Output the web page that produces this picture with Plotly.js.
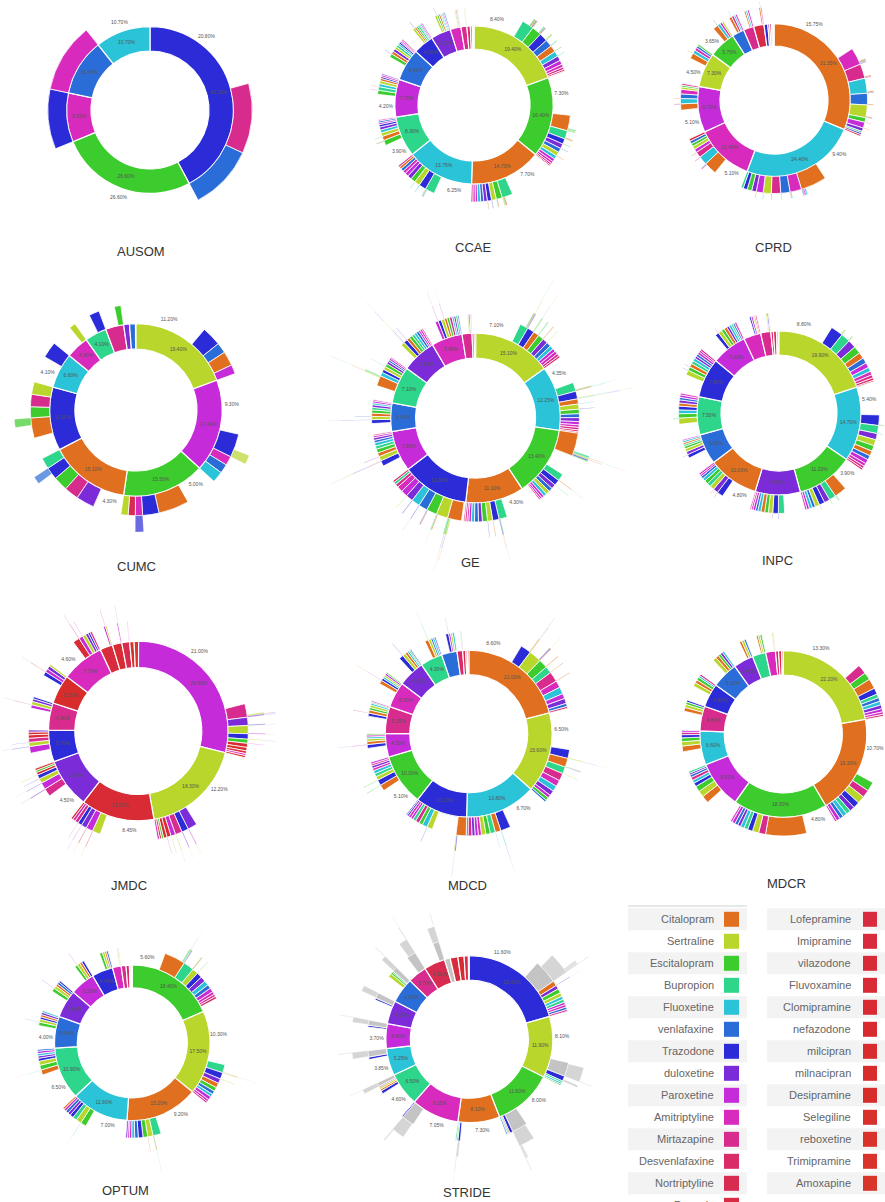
<!DOCTYPE html>
<html><head><meta charset="utf-8">
<script src="https://cdn.plot.ly/plotly-3.0.1.min.js"></script>
<style>html,body{margin:0;padding:0;background:#fff}#chart{width:885px;height:1202px}</style>
</head><body><div id="chart"></div>
<script>
// ---------- categories ----------
const drugNames = ['Citalopram','Sertraline','Escitalopram','Bupropion','Fluoxetine','venlafaxine','Trazodone','duloxetine','Paroxetine','Amitriptyline','Mirtazapine','Desvenlafaxine','Nortriptyline','Doxepin','Lofepramine','Imipramine','vilazodone','Fluvoxamine','Clomipramine','nefazodone','milcipran','milnacipran','Desipramine','Selegiline','reboxetine','Trimipramine','Amoxapine'];
const drugColors = ['#E0701F','#B8D62B','#3DCC2D','#2DD68A','#2BC3D8','#2B6DD8','#2B2BD8','#7B2BD8','#C52BD8','#D82BBD','#D82B8E','#D82B68','#D82B50','#D82B46','#D82B40','#D82B3C','#D82B38','#D82B35','#D82B32','#D82B30','#D82B2E','#D82C2C','#D82E2B','#D8302B','#D8322B','#D8342B','#D8362B','#C4C4C4'];
const chartNames = ['AUSOM','CCAE','CPRD','CUMC','GE','INPC','JMDC','MDCD','MDCR','OPTUM','STRIDE'];

// ---------- values: [drug, % of patients, next-line children]; drug -1 = stopped ----------
const ausom = [
 [6,42.2,[[10,11.1],[5,10.3]]],
 [2,26.6],
 [9,9.5,[[6,9.5]]],
 [5,11.0,[[9,11.0]]],
 [4,10.7]
];
const ccae = [
 [1,19.4,[[3,2.0,[[2,0.25,[[0,0.05,[[1,0.03,[[3,0.02]]]]]]],[0,0.2],[6,0.15],[1,0.1]]],[2,1.6,[[3,0.2],[0,0.15,[[2,0.04,[[0,0.03]]]]],[6,0.1]]],[6,1.4,[[1,0.15],[3,0.1]]],[5,1.2,[[2,0.1],[4,0.08]]],[0,1.1,[[2,0.1]]],[4,0.9,[[3,0.08]]],[7,0.8],[8,0.7],[9,0.5],[10,0.4],[11,0.3],[12,0.1]]],
 [2,16.4,[[0,2.6,[[3,0.2,[[2,0.05,[[0,0.03]]]]],[1,0.15,[[0,0.04]]],[2,0.1]]],[3,1.4,[[0,0.15],[1,0.1]]],[6,0.9,[[2,0.1]]],[7,0.8,[[5,0.08]]],[5,0.7],[1,0.7,[[0,0.08]]],[4,0.6],[8,0.5],[9,0.4],[10,0.3],[11,0.2]]],
 [0,14.7,[[3,1.8,[[0,0.2,[[3,0.05,[[0,0.03,[[2,0.02]]]]]]],[2,0.15],[1,0.1]]],[2,1.0,[[0,0.12],[3,0.08]]],[1,0.8,[[6,0.08]]],[6,0.7,[[0,0.08]]],[7,0.6],[5,0.5],[4,0.5],[8,0.4],[9,0.4],[10,0.3]]],
 [4,13.75,[[3,1.6,[[4,0.15,[[3,0.04,[[4,0.03]]]]],[2,0.1],[0,0.08]]],[6,1.2,[[4,0.1,[[6,0.03]]]]],[1,0.9,[[4,0.08]]],[2,0.8],[7,0.7],[8,0.6],[9,0.5],[5,0.5],[0,0.4],[10,0.3]]],
 [3,8.3,[[2,0.9,[[3,0.1,[[2,0.04,[[3,0.02]]]]],[0,0.08]]],[0,0.7,[[3,0.08]]],[1,0.6],[4,0.5],[7,0.5],[6,0.4],[8,0.3],[5,0.3],[9,0.2]]],
 [8,7.7,[[2,0.7,[[8,0.08,[[2,0.03]]]]],[3,0.6,[[0,0.06]]],[4,0.5],[1,0.5],[0,0.4],[6,0.3],[9,0.3],[7,0.2]]],
 [5,6.6,[[2,0.6,[[5,0.08,[[2,0.03]]]]],[0,0.5],[7,0.5],[1,0.4],[3,0.4],[4,0.3],[6,0.3],[8,0.2],[9,0.2],[10,0.2]]],
 [6,4.2,[[1,0.4,[[6,0.06,[[1,0.03]]]]],[0,0.3],[2,0.3],[3,0.3],[4,0.2],[7,0.2],[8,0.2]]],
 [7,4.1,[[1,0.4,[[7,0.05]]],[2,0.3],[0,0.3],[3,0.2],[4,0.2],[8,0.2],[5,0.2]]],
 [9,2.2,[[1,0.2],[0,0.2],[6,0.1],[4,0.1]]],
 [10,1.2,[[1,0.1],[0,0.1]]],
 [11,0.7],[12,0.4],[16,0.2],[17,0.15]
];
const cprd = [
 [0,31.35,[[9,3.0,[[0,0.25,[[9,0.06,[[0,0.03]]]]],[4,0.2],[10,0.1]]],[10,2.5,[[0,0.2,[[10,0.05]]],[9,0.1]]],[4,2.6,[[0,0.2,[[4,0.05,[[0,0.03]]]]],[5,0.1]]],[5,2.0,[[0,0.15]]],[1,2.2,[[0,0.15],[4,0.1]]],[2,0.8,[[0,0.08]]],[8,1.0,[[0,0.08]]],[7,0.6],[3,0.3],[6,0.3],[13,0.3]]],
 [4,24.4,[[0,4.5,[[4,0.3,[[0,0.06,[[4,0.03]]]]],[9,0.2],[10,0.15],[5,0.1]]],[9,2.0,[[4,0.15,[[9,0.04]]],[0,0.1]]],[5,1.6,[[4,0.1]]],[10,1.6,[[0,0.1,[[4,0.03]]]]],[1,1.4,[[4,0.1]]],[8,1.2,[[0,0.08]]],[7,0.8],[2,0.8],[6,0.7],[3,0.4]]],
 [9,12.4,[[0,2.2,[[9,0.15,[[0,0.05,[[9,0.03]]]]],[4,0.1]]],[4,1.5,[[9,0.1]]],[10,1.0,[[0,0.08]]],[8,0.6],[1,0.6],[2,0.5],[5,0.5],[13,0.4]]],
 [8,9.7,[[0,1.1,[[8,0.1,[[0,0.04]]]]],[4,0.9,[[0,0.08]]],[5,0.8],[9,0.8],[1,0.4],[2,0.3],[10,0.3]]],
 [1,7.3,[[0,1.0,[[1,0.1,[[0,0.04]]]]],[4,0.6],[9,0.5],[5,0.4],[2,0.3]]],
 [2,5.75,[[0,0.9,[[2,0.08,[[0,0.03]]]]],[4,0.5],[9,0.4],[1,0.3]]],
 [5,2.6,[[0,0.5,[[5,0.04]]],[10,0.4],[4,0.3],[9,0.3]]],
 [10,2.2,[[0,0.3],[4,0.3],[9,0.3]]],
 [13,2.2,[[0,0.3,[[13,0.04]]],[9,0.2]]],
 [6,0.8],[7,0.4],[14,0.4],[15,0.2],[18,0.2],[17,0.1]
];
const cumc = [
 [1,19.4,[[6,3.0],[5,1.6],[0,2.2],[8,1.4]]],
 [8,17.4,[[6,3.6,[[1,1.2]]],[9,1.4],[5,1.4],[4,1.7]]],
 [2,15.5,[[0,4.7],[6,2.5],[9,1.1,[[6,1.1]]],[12,1.1],[1,1.1]]],
 [0,15.1,[[7,2.8],[10,2.2],[2,2.2],[6,1.9,[[5,1.0]]],[3,1.7]]],
 [6,11.9,[[0,3.1,[[2,1.1]]],[2,1.7],[10,1.9],[1,1.9]]],
 [4,6.6,[[6,2.5]]],
 [9,4.3,[[1,1.0]]],
 [3,4.1,[[6,1.6]]],
 [10,3.4,[[2,1.0]]],
 [7,1.1],[5,1.1]
];
const ge = [
 [1,15.1,[[3,1.3,[[2,0.15,[[1,0.05,[[3,0.04,[[2,0.03]]]]]]],[0,0.1,[[1,0.04]]],[6,0.1]]],[6,1.1,[[1,0.1,[[6,0.04,[[1,0.03]]]]],[3,0.1]]],[0,0.9,[[2,0.08],[3,0.06]]],[2,0.9,[[0,0.08]]],[7,0.8,[[1,0.06]]],[5,0.7],[4,0.6],[8,0.5],[9,0.5],[10,0.4],[11,0.3]]],
 [4,12.25,[[3,1.4,[[2,0.12,[[4,0.05,[[3,0.03]]]]],[0,0.1,[[3,0.04]]]]],[6,1.2,[[1,0.1,[[4,0.06,[[6,0.04,[[1,0.03]]]]]]],[4,0.06,[[1,0.04,[[6,0.03]]]]]]],[0,0.8,[[4,0.06]]],[1,0.8,[[6,0.06]]],[2,0.7],[5,0.6],[7,0.6],[8,0.5],[9,0.4],[10,0.4],[11,0.3],[12,0.2]]],
 [2,13.4,[[0,3.6,[[3,0.3,[[0,0.08,[[3,0.05,[[0,0.04]]]]]]],[1,0.2,[[0,0.05]]],[6,0.2],[2,0.1]]],[-1,3.2],[3,1.1,[[0,0.08,[[3,0.03]]]]],[6,0.9,[[2,0.06]]],[7,0.7],[5,0.6],[1,0.6],[4,0.5],[8,0.4],[9,0.3],[10,0.2]]],
 [0,11.1,[[3,1.3,[[2,0.1,[[0,0.04,[[3,0.03]]]]],[6,0.1,[[0,0.04]]]]],[6,1.0,[[0,0.08]]],[1,0.8,[[6,0.06]]],[2,0.8],[7,0.6],[5,0.6],[4,0.5],[8,0.4],[9,0.3],[10,0.3],[11,0.2]]],
 [6,12.8,[[0,2.2,[[1,0.2,[[6,0.06,[[0,0.04]]]]],[2,0.2,[[6,0.05,[[0,0.04,[[1,0.03]]]]]]],[3,0.1]]],[1,1.8,[[0,0.15,[[1,0.04]]],[3,0.1]]],[2,1.6,[[0,0.1],[6,0.08]]],[5,1.4,[[6,0.08,[[5,0.03]]]]],[4,1.3,[[6,0.08]]],[7,1.1,[[1,0.06]]],[8,1.0],[9,0.9],[10,0.5],[3,0.4],[11,0.3]]],
 [8,7.8,[[6,0.9,[[8,0.08,[[6,0.05,[[1,0.04,[[0,0.03]]]]]]],[1,0.05,[[6,0.04,[[2,0.03]]]]]]],[1,0.7,[[8,0.06,[[1,0.03]]]]],[0,0.6],[2,0.6],[3,0.5],[4,0.5],[5,0.4],[7,0.4],[9,0.3],[10,0.2]]],
 [5,5.4,[[6,0.6,[[5,0.06,[[6,0.04,[[5,0.03]]]]]]],[1,0.5,[[5,0.05]]],[0,0.5],[2,0.5],[3,0.4],[7,0.4],[4,0.3],[8,0.3],[9,0.2]]],
 [3,7.1,[[0,1.6,[[1,0.12,[[0,0.06,[[3,0.04,[[0,0.03]]]]]]],[2,0.1],[3,0.08]]],[4,0.6],[6,0.5],[1,0.5,[[3,0.05]]],[2,0.5],[7,0.4],[5,0.3],[8,0.3],[9,0.2]]],
 [7,6.6,[[1,0.6,[[7,0.06,[[1,0.05,[[7,0.04,[[1,0.03]]]]]]]]],[6,0.6,[[7,0.05]]],[0,0.5],[2,0.5],[3,0.4],[4,0.4],[5,0.4],[8,0.3],[9,0.3],[10,0.2]]],
 [9,5.9,[[8,0.5,[[9,0.05,[[8,0.03]]]]],[6,0.5],[1,0.5,[[9,0.05,[[1,0.03]]]]],[0,0.4],[2,0.4],[10,0.4],[4,0.3],[7,0.3],[3,0.3],[5,0.2]]],
 [10,1.9,[[1,0.2],[6,0.2],[0,0.1],[9,0.1]]],
 [12,0.4],[11,0.3]
];
const inpc = [
 [1,19.9,[[6,2.0,[[1,0.15,[[6,0.05,[[1,0.03]]]]],[3,0.1,[[6,0.04]]]]],[3,1.5,[[2,0.1],[1,0.08]]],[7,1.3,[[1,0.08]]],[2,1.2,[[1,0.06]]],[0,1.0],[5,0.9],[8,0.8],[4,0.7],[9,0.6],[10,0.5],[11,0.4],[12,0.2]]],
 [4,14.7,[[6,1.7,[[4,0.1,[[6,0.04,[[4,0.03]]]]],[1,0.08]]],[3,1.3,[[4,0.08]]],[7,1.0,[[4,0.06]]],[1,1.0],[2,0.9],[0,0.8],[5,0.7],[8,0.7],[9,0.5],[10,0.4],[11,0.3]]],
 [2,11.2,[[0,2.0,[[1,0.1,[[2,0.04,[[0,0.03]]]]],[3,0.1,[[2,0.04]]]]],[3,1.1,[[2,0.08]]],[7,0.9],[6,0.9,[[2,0.06]]],[1,0.7],[5,0.5],[4,0.5],[8,0.4],[9,0.3]]],
 [7,8.9,[[3,1.0,[[7,0.08,[[3,0.04,[[7,0.03]]]]]]],[6,0.9,[[7,0.06]]],[1,0.7],[2,0.6],[0,0.6],[4,0.5],[5,0.4],[8,0.4],[9,0.3],[10,0.2]]],
 [0,10.0,[[6,1.0,[[0,0.08,[[6,0.04]]]]],[7,0.8,[[0,0.06]]],[1,0.7],[3,0.6],[2,0.6],[4,0.5],[5,0.4],[8,0.3],[9,0.3]]],
 [5,6.0,[[6,0.6,[[5,0.05,[[6,0.03]]]]],[7,0.5],[1,0.5],[2,0.4],[3,0.3],[0,0.3],[4,0.3],[8,0.2]]],
 [3,7.5,[[1,1.0,[[3,0.08,[[1,0.04,[[3,0.03]]]]],[2,0.05]]],[2,0.7,[[3,0.05]]],[4,0.6],[6,0.6],[0,0.5],[7,0.5],[5,0.4],[8,0.4],[9,0.3]]],
 [6,7.8,[[1,0.8,[[6,0.06,[[1,0.03]]]]],[2,0.6,[[6,0.05]]],[0,0.6],[3,0.5],[4,0.5],[7,0.4],[5,0.4],[8,0.4],[9,0.3],[10,0.3]]],
 [8,7.0,[[6,0.6,[[8,0.05,[[6,0.03]]]]],[1,0.6],[2,0.5],[0,0.5],[7,0.4],[4,0.4],[3,0.3],[5,0.3],[9,0.3]]],
 [9,3.4,[[6,0.3],[8,0.3],[1,0.2],[0,0.2],[10,0.2]]],
 [10,2.0,[[1,0.2],[6,0.2],[0,0.1]]],
 [11,0.5],[12,0.6],[16,0.3]
];
const jmdc = [
 [8,28.9,[[10,2.0,[[1,0.2,[[8,0.06,[[1,0.04,[[8,0.03]]]]]]],[7,0.15,[[6,0.05,[[8,0.03]]]]]]],[7,1.2,[[6,0.1,[[8,0.04,[[6,0.03]]]]]]],[1,1.2,[[8,0.1,[[1,0.04]]]]],[6,0.8,[[1,0.08,[[7,0.03,[[1,0.02]]]]]]],[2,0.6,[[8,0.05]]],[17,0.6],[21,0.5],[15,0.4],[9,0.3],[18,0.3]]],
 [1,18.3,[[7,1.4,[[8,0.1,[[1,0.04,[[8,0.03,[[1,0.02]]]]]]]]],[6,1.0,[[7,0.1,[[1,0.04,[[7,0.03]]]]]]],[10,1.0,[[1,0.08,[[10,0.03]]]]],[8,0.7,[[1,0.06]]],[17,0.6,[[8,0.05]]],[21,0.5],[2,0.3],[15,0.3],[9,0.3]]],
 [17,13.25,[[1,1.2,[[17,0.08,[[1,0.04,[[17,0.03]]]]]]],[8,1.0,[[17,0.08,[[1,0.03]]]]],[7,0.8,[[8,0.06,[[7,0.03]]]]],[6,0.6,[[17,0.05]]],[10,0.5],[9,0.4],[21,0.3]]],
 [7,9.0,[[10,1.2,[[7,0.1,[[8,0.04,[[7,0.03]]]]]]],[8,1.0,[[7,0.08,[[8,0.03]]]]],[1,0.7,[[7,0.06]]],[6,0.6,[[1,0.05]]],[17,0.4],[2,0.3],[21,0.3]]],
 [6,5.7,[[8,1.0,[[6,0.08,[[8,0.04,[[6,0.03]]]]]]],[1,0.6,[[6,0.05]]],[10,0.6],[17,0.5],[21,0.4],[7,0.3]]],
 [10,4.9,[[8,0.5,[[10,0.05,[[8,0.03]]]]],[1,0.5],[7,0.4],[6,0.3]]],
 [21,5.3,[[6,0.6,[[21,0.05,[[8,0.02]]]]],[8,0.5],[7,0.5],[1,0.3]]],
 [9,7.7,[[17,1.0,[[9,0.08,[[17,0.04,[[9,0.03]]]]]]],[8,0.6,[[9,0.05]]],[1,0.5],[7,0.4],[6,0.3],[10,0.3]]],
 [15,2.3,[[8,0.3,[[15,0.04]]],[1,0.2]]],[18,1.7,[[8,0.2,[[18,0.03]]]]],[12,1.4,[[9,0.1]]],[25,0.8],[26,0.8]
];
const mdcd = [
 [0,21.0,[[6,1.7,[[1,0.1,[[0,0.04,[[6,0.03]]]]],[0,0.1,[[6,0.04]]]]],[1,2.0,[[6,0.15,[[1,0.04]]],[0,0.1]]],[2,1.4,[[0,0.1]]],[3,1.1,[[0,0.08]]],[10,1.6,[[0,0.08]]],[9,1.1],[4,1.1],[8,0.8],[7,0.8],[5,0.5],[11,0.3]]],
 [1,15.6,[[6,1.4,[[1,0.1,[[6,0.04,[[1,0.03]]]]]]],[0,1.4,[[1,0.1],[6,0.06]]],[3,1.1,[[1,0.06]]],[10,1.2],[9,1.0],[4,0.9],[7,0.8],[8,0.5],[2,0.5],[5,0.3]]],
 [4,13.8,[[6,1.6,[[4,0.1,[[6,0.04,[[4,0.03]]]]]]],[0,0.9,[[4,0.06]]],[3,0.8],[2,0.7],[1,0.7],[9,0.5],[8,0.5],[7,0.5],[10,0.6],[5,0.3]]],
 [6,10.1,[[0,1.6,[[6,0.15,[[0,0.05,[[6,0.03]]]]],[1,0.1]]],[-1,3.8],[1,0.9,[[6,0.06]]],[4,0.8],[2,0.6],[10,0.6],[3,0.5],[8,0.4],[9,0.4],[7,0.3],[5,0.2]]],
 [2,10.0,[[0,1.0,[[2,0.08,[[0,0.03]]]]],[6,0.9,[[2,0.06]]],[1,0.6],[3,0.5],[4,0.5],[9,0.4],[7,0.4],[10,0.3],[8,0.3]]],
 [8,4.5,[[6,0.6,[[8,0.05,[[6,0.03]]]]],[0,0.5],[1,0.4],[4,0.3],[9,0.3],[2,0.2]]],
 [10,5.25,[[6,0.5,[[10,0.05]]],[0,0.5],[2,0.4],[1,0.4],[4,0.3],[3,0.2],[9,0.2]]],
 [9,5.0,[[0,0.6,[[9,0.05,[[0,0.03]]]]],[6,0.4],[4,0.3],[1,0.3],[8,0.3],[2,0.2]]],
 [7,5.2,[[6,0.7,[[7,0.05]]],[1,0.5],[0,0.4],[4,0.3],[2,0.2],[5,0.2]]],
 [3,4.3,[[0,0.6,[[3,0.05,[[0,0.03]]]]],[1,0.4],[5,0.3],[4,0.3],[6,0.2]]],
 [5,3.0,[[6,0.5,[[5,0.04]]],[8,0.3],[1,0.3],[4,0.3]]],
 [11,1.1,[[1,0.1],[6,0.1]]],[12,0.6],[15,0.3],[13,0.3]
];
const mdcr = [
 [1,22.2,[[10,1.5,[[1,0.1,[[10,0.04,[[1,0.03]]]]]]],[2,1.2,[[1,0.08]]],[0,1.6,[[2,0.1,[[0,0.03]]],[1,0.08]]],[6,1.0,[[1,0.06]]],[3,0.6],[5,0.6],[4,0.6],[7,0.6],[8,0.5],[9,0.4],[11,0.3]]],
 [0,19.3,[[2,1.5,[[0,0.1,[[2,0.04]]]]],[10,1.2,[[0,0.08]]],[1,1.2,[[0,0.08]]],[6,1.0,[[0,0.06]]],[7,0.8],[3,0.7],[4,0.7],[5,0.6],[8,0.6],[9,0.3]]],
 [2,18.3,[[-1,4.8],[0,6.5,[[6,0.3,[[1,0.05,[[6,0.03]]]]],[8,0.2],[1,0.2],[7,0.15],[4,0.1],[3,0.1]]],[10,1.1,[[2,0.06]]],[1,1.0,[[2,0.06]]],[6,0.8],[3,0.6],[4,0.6],[7,0.5],[5,0.5],[8,0.5],[9,0.3]]],
 [8,9.2,[[0,1.2,[[8,0.08,[[0,0.03]]]]],[1,1.0,[[8,0.06]]],[2,0.9],[6,0.6],[4,0.5],[10,0.5],[5,0.4],[7,0.3],[3,0.3]]],
 [4,6.6,[[0,0.9,[[4,0.05,[[0,0.03]]]]],[1,0.7],[2,0.6],[6,0.5],[10,0.4],[8,0.3]]],
 [10,4.8,[[0,0.6],[1,0.5],[2,0.4],[6,0.3]]],
 [6,4.6,[[1,0.6,[[6,0.05]]],[0,0.5],[2,0.5],[4,0.3],[10,0.3]]],
 [5,5.1,[[1,0.6,[[5,0.05,[[1,0.03]]]]],[0,0.5],[2,0.4],[7,0.4],[4,0.3]]],
 [7,3.9,[[0,0.4],[1,0.4],[5,0.3]]],
 [3,2.6,[[0,0.3],[1,0.3],[2,0.3]]],
 [9,1.9,[[1,0.2],[0,0.1]]],
 [11,0.6],[12,0.6],[15,0.3]
];
const optum = [
 [2,18.4,[[-1,5.6],[0,3.6,[[3,0.2,[[0,0.05,[[3,0.03]]]]],[1,0.15],[6,0.1]]],[3,1.8,[[2,0.1],[0,0.08]]],[1,1.0,[[2,0.06]]],[6,0.9],[7,0.9],[4,0.8],[5,0.7],[8,0.7],[9,0.5],[10,0.4],[11,0.4]]],
 [1,17.5,[[3,1.4,[[1,0.1,[[3,0.04,[[1,0.03]]]]],[0,0.06]]],[6,1.1,[[1,0.08]]],[7,0.8],[0,0.8],[2,0.7],[5,0.6],[4,0.5],[8,0.6],[9,0.4],[10,0.3]]],
 [0,15.2,[[3,1.4,[[0,0.1,[[3,0.04,[[0,0.03]]]]],[2,0.06]]],[1,0.9,[[0,0.06]]],[2,0.8],[6,0.8],[5,0.6],[4,0.5],[8,0.4],[9,0.3],[7,0.3]]],
 [4,11.9,[[2,1.0,[[4,0.06,[[2,0.03]]]]],[1,0.9],[3,0.7],[6,0.6],[7,0.5],[5,0.5],[8,0.4],[0,0.3]]],
 [3,10.9,[[0,0.9,[[3,0.06,[[0,0.03]]]]],[2,0.8],[1,0.7],[6,0.5],[7,0.4],[4,0.4],[8,0.4],[5,0.3]]],
 [5,6.6,[[2,0.6,[[5,0.04]]],[1,0.5],[6,0.4],[0,0.4],[7,0.4],[4,0.3]]],
 [7,5.8,[[2,0.6,[[7,0.04]]],[1,0.5],[0,0.4],[5,0.4],[6,0.3]]],
 [8,5.2,[[2,0.5,[[8,0.04]]],[1,0.5],[0,0.4],[6,0.4]]],
 [6,4.4,[[2,0.5],[1,0.4],[0,0.3],[5,0.3]]],
 [9,1.8,[[1,0.2],[2,0.1]]],
 [10,1.0],[11,0.7],[12,0.3],[15,0.2]
];
const stride = [
 [6,20.6,[[27,3.8,[[27,3.0,[[27,0.6,[[27,0.1]]]]]]],[0,0.8,[[6,0.06,[[27,0.04]]]]],[7,0.6],[2,0.7],[1,0.6],[4,0.5],[3,0.5],[8,0.4],[9,0.4],[5,0.4],[10,0.3]]],
 [1,11.9,[[27,2.2,[[27,2.0,[[27,0.1]]]]],[6,0.8,[[27,0.3]]],[3,0.3],[4,0.3],[2,0.2]]],
 [2,11.6,[[27,2.5,[[27,2.2,[[27,0.4,[[27,0.1]]]]]]],[6,0.5],[0,0.2],[3,0.2],[5,0.2]]],
 [0,8.1,[[6,0.4,[[27,0.3,[[27,0.1,[[27,0.05]]]]]]],[2,0.2],[3,0.2]]],
 [9,9.25,[[27,2.0,[[27,1.8,[[27,0.2]]]]],[6,0.2]]],
 [3,6.5,[[6,0.5],[0,0.3],[1,0.3],[9,0.2],[27,0.6,[[27,0.6,[[27,0.08]]]]]]],
 [4,5.25,[[6,0.4],[27,1.0,[[27,0.9,[[27,0.1]]]]]]],
 [8,4.8,[[6,0.3],[27,0.8,[[27,0.7,[[27,0.08]]]]]]],
 [7,4.5,[[6,0.3],[27,0.9,[[27,0.8]]]]],
 [5,4.9,[[1,0.6],[2,0.3],[3,0.2],[27,0.8,[[27,0.7,[[27,0.1]]]]]]],
 [10,3.7,[[27,1.5,[[27,1.2,[[27,0.15,[[27,0.05]]]]]]]]],
 [12,4.1,[[27,1.0,[[27,1.0,[[27,0.1]]]]]]],
 [27,1.1],[15,1.5],[18,1.2],[13,0.8]
];

// ---------- layout geometry (pixels) ----------
const W = 885, H = 1202;
const centers = [[150,110],[474,105],[774,100],[136,410],[475.5,418],[779,413],[138.3,731],[468.7,733.7],[783.3,734],[132.3,1042.8],[469.3,1039.2]];
const units = [59,56,54,61,60,58,63.5,59,59,55,59];
const titlePos = [[141,251],[473.5,247],[773.5,247],[136,566],[470,562],[777,560],[129,885],[467.5,885],[786,883],[125,1190],[467,1192]];
const trees = [ausom, ccae, cprd, cumc, ge, inpc, jmdc, mdcd, mdcr, optum, stride];

function walk(nodes, start, depth, segs, labels) {
  let a = start;
  nodes.forEach(n => {
    const drug = n[0], val = n[1], kids = n[2] || [];
    const span = val * 3.6;
    if (drug >= 0) {
      segs.push({drug, depth, a0: a, span});
      let gapVal = 0;
      if (kids.length) {
        const explicit = kids.some(c => c[0] === -1);
        const sum = kids.reduce((s, c) => s + c[1], 0);
        const cs = explicit ? a : a + (val - sum) * 3.6;
        gapVal = explicit ? (kids[0][0] === -1 ? kids[0][1] : 0) : val - sum;
        walk(kids, cs, depth + 1, segs, labels);
      } else gapVal = val;
      if (depth === 1) {
        labels.push({ring: 1, ang: a + span / 2, val, span});
        if (gapVal > 0) labels.push({ring: 2, ang: a + gapVal * 1.8, val: gapVal, span: gapVal * 3.6});
      }
    }
    a += span;
  });
}

const data = [];
const layout = {
  width: W, height: H, margin: {l: 0, r: 0, t: 0, b: 0},
  paper_bgcolor: '#ffffff', showlegend: false,
  font: {family: 'Liberation Sans, Arial, sans-serif'},
  annotations: [], shapes: []
};

trees.forEach((tree, k) => {
  const [cx, cy] = centers[k];
  const u = units[k];
  const R = Math.min(160, cx, W - cx, cy, H - cy);
  const pk = k === 0 ? 'polar' : 'polar' + (k + 1);
  const segs = [], labels = [];
  walk(tree, 0, 1, segs, labels);
  data.push({
    type: 'barpolar', subplot: pk, hoverinfo: 'skip',
    r: segs.map(s => u * (Math.sqrt(s.depth + 1) - Math.sqrt(s.depth))),
    base: segs.map(s => u * Math.sqrt(s.depth)),
    theta: segs.map(s => s.a0 + s.span / 2),
    width: segs.map(s => s.span),
    marker: {
      color: segs.map(s => drugColors[s.drug]),
      opacity: segs.map(s => s.depth <= 2 ? 1 : (s.depth === 3 ? 0.7 : 0.5)),
      line: {color: '#ffffff', width: segs.map(s => s.depth === 1 ? 1.2 : (s.depth === 2 ? 0.8 : 0.3))}
    }
  });
  const shown = labels.filter(l => l.span >= 13);
  data.push({
    type: 'scatterpolar', subplot: pk, mode: 'text', hoverinfo: 'skip', cliponaxis: false,
    r: shown.map(l => l.ring === 1 ? u * (1 + Math.SQRT2) / 2 : u * (Math.SQRT2 + Math.sqrt(3)) / 2),
    theta: shown.map(l => l.ang),
    text: shown.map(l => l.val.toFixed(2) + '%'),
    textfont: {size: 5, color: '#555'}
  });
  layout[pk] = {
    domain: {x: [(cx - R) / W, (cx + R) / W], y: [(H - cy - R) / H, (H - cy + R) / H]},
    bgcolor: 'rgba(0,0,0,0)', barmode: 'overlay', hole: 0,
    radialaxis: {range: [0, R], showline: false, showgrid: false, showticklabels: false, ticks: ''},
    angularaxis: {rotation: 90, direction: 'clockwise', showline: false, showgrid: false, showticklabels: false, ticks: ''}
  };
  const [tx, ty] = titlePos[k];
  layout.annotations.push({
    xref: 'paper', yref: 'paper', x: tx / W, y: 1 - ty / H, xanchor: 'center', yanchor: 'middle',
    text: chartNames[k], showarrow: false, font: {size: 13, color: '#333'}
  });
});

// ---------- legend (two columns) ----------
const legendCols = [
  {names: drugNames.slice(0, 14), first: 0, bg: [628, 747], textRight: 716, sw: [724, 739]},
  {names: drugNames.slice(14), first: 14, bg: [767, 885], textRight: 853, sw: [863, 877]}
];
const py = v => 1 - v / H, px = v => v / W;
layout.shapes.push({type: 'line', xref: 'paper', yref: 'paper', x0: px(628), x1: px(747), y0: py(906), y1: py(906), line: {color: '#d0d0d0', width: 1}});
legendCols.forEach(col => {
  col.names.forEach((nm, i) => {
    const yc = 919.3 + 22 * i;
    if (i % 2 === 0) layout.shapes.push({type: 'rect', xref: 'paper', yref: 'paper', layer: 'below',
      x0: px(col.bg[0]), x1: px(col.bg[1]), y0: py(yc + 11), y1: py(yc - 11), fillcolor: '#f3f3f3', line: {width: 0}});
    layout.shapes.push({type: 'rect', xref: 'paper', yref: 'paper',
      x0: px(col.sw[0]), x1: px(col.sw[1]), y0: py(yc + 7.5), y1: py(yc - 7.5), fillcolor: drugColors[col.first + i], line: {width: 0}});
    layout.annotations.push({xref: 'paper', yref: 'paper', x: px(col.textRight), y: py(yc), xanchor: 'right', yanchor: 'middle',
      text: nm, showarrow: false, font: {size: 11, color: '#666'}});
  });
});

Plotly.newPlot('chart', data, layout, {staticPlot: true, displayModeBar: false});
</script>
</body></html>
